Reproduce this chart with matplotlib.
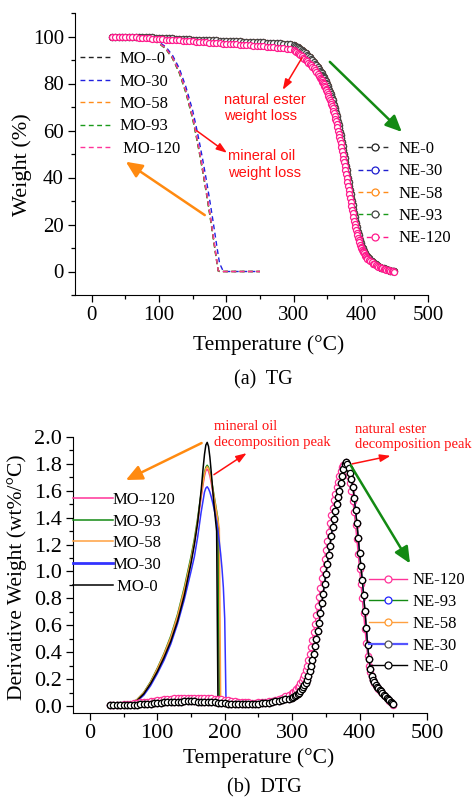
import numpy as np
import matplotlib
matplotlib.use("Agg")
import matplotlib.pyplot as plt
from matplotlib.lines import Line2D
from matplotlib.ticker import MultipleLocator, FormatStrFormatter

plt.rcParams['font.family'] = ['Liberation Serif', 'DejaVu Serif']

# ---------------- data ----------------
# natural ester TG: 5 degC steps up to 295, 2 degC to 338, 1 degC through the fall, 2 degC to 450
tg_temp = np.concatenate([np.arange(30, 300, 5), np.arange(300, 340, 2),
                          np.arange(340, 411, 1), np.arange(412, 451, 2)])

tg_ne0 = [100.0, 100.0, 100.0, 99.9, 99.9, 99.9, 99.8, 99.8, 99.8, 99.7,
          99.7, 99.6, 99.6, 99.5, 99.5, 99.4, 99.3, 99.3, 99.2, 99.1,
          99.0, 99.0, 98.9, 98.8, 98.7, 98.7, 98.6, 98.5, 98.5, 98.4,
          98.3, 98.3, 98.2, 98.1, 98.1, 98.0, 98.0, 97.9, 97.9, 97.8,
          97.8, 97.7, 97.7, 97.6, 97.6, 97.5, 97.4, 97.4, 97.3, 97.2,
          97.1, 97.0, 96.8, 96.6,
          # 300-338
          96.3, 96.0, 95.7, 95.4, 95.0, 94.6, 94.2, 93.8, 93.3, 92.8,
          92.3, 91.7, 91.1, 90.5, 89.9, 89.2, 88.5, 87.7, 86.9, 86.0,
          # 340-410
          85.2, 84.8, 84.3, 83.8, 83.3, 82.8, 82.2, 81.6, 81.0, 80.3,
          79.6, 78.9, 78.1, 77.3, 76.5, 75.6, 74.7, 73.8, 72.8, 71.8,
          70.8, 69.7, 68.6, 67.4, 66.2, 64.9, 63.6, 62.3, 60.9, 59.5,
          58.1, 56.6, 55.0, 53.4, 51.8, 50.1, 48.4, 46.7, 45.0, 43.3,
          41.6, 39.9, 38.2, 36.5, 34.8, 33.1, 31.4, 29.8, 28.1, 26.5,
          24.9, 23.4, 21.9, 20.5, 19.1, 17.8, 16.6, 15.4, 14.3, 13.2,
          12.2, 11.4, 10.6, 9.9, 9.2, 8.6, 8.0, 7.5, 7.0, 6.6,
          6.2,
          # 412-450
          5.6, 5.0, 4.4, 3.9, 3.4, 3.0, 2.7, 2.3, 2.0, 1.7,
          1.5, 1.3, 1.1, 0.9, 0.7, 0.5, 0.4, 0.3, 0.2, 0.1]
tg_ne120 = [100.0, 100.0, 99.9, 99.9, 99.8, 99.8, 99.7, 99.6, 99.5, 99.4,
            99.3, 99.2, 99.1, 99.0, 98.9, 98.8, 98.7, 98.6, 98.5, 98.4,
            98.3, 98.2, 98.1, 98.0, 97.9, 97.8, 97.7, 97.6, 97.5, 97.4,
            97.3, 97.2, 97.1, 97.0, 96.9, 96.8, 96.7, 96.6, 96.5, 96.4,
            96.3, 96.2, 96.1, 96.0, 95.9, 95.8, 95.7, 95.6, 95.5, 95.3,
            95.2, 95.0, 94.8, 94.6,
            # 300-338
            94.3, 93.9, 93.5, 93.0, 92.5, 92.0, 91.5, 91.0, 90.5, 90.0,
            89.5, 88.9, 88.3, 87.7, 87.1, 86.5, 85.7, 84.9, 84.1, 83.3,
            # 340-410
            82.5, 82.0, 81.4, 80.8, 80.2, 79.6, 79.0, 78.4, 77.8, 77.2,
            76.5, 75.7, 74.8, 74.0, 73.1, 72.2, 71.3, 70.4, 69.4, 68.5,
            67.5, 66.3, 65.1, 63.9, 62.6, 61.3, 60.0, 58.7, 57.3, 55.9,
            54.5, 52.9, 51.3, 49.7, 48.0, 46.4, 44.7, 43.1, 41.4, 39.7,
            38.0, 36.3, 34.6, 33.0, 31.3, 29.6, 28.0, 26.3, 24.7, 23.1,
            21.5, 20.2, 18.9, 17.7, 16.5, 15.4, 14.4, 13.4, 12.4, 11.4,
            10.5, 9.9, 9.3, 8.7, 8.2, 7.7, 7.2, 6.7, 6.3, 5.9,
            5.5,
            # 412-450
            5.0, 4.4, 3.9, 3.4, 3.0, 2.7, 2.4, 2.0, 1.8, 1.5,
            1.3, 1.1, 0.9, 0.7, 0.6, 0.5, 0.3, 0.2, 0.1, 0.0]
# NE-30 / NE-58 / NE-93 lie on top of NE-0 in the picture
tg_ne30 = tg_ne0
tg_ne58 = tg_ne0
tg_ne93 = tg_ne0

# natural ester DTG: 5 degC steps up to 295, then 2 degC steps to 450
dtg_temp = np.concatenate([np.arange(30, 300, 5), np.arange(300, 451, 2)])

dtg_ne0 = [0.005, 0.005, 0.005, 0.006, 0.006, 0.007, 0.008, 0.009, 0.010, 0.012,
           0.014, 0.016, 0.018, 0.020, 0.022, 0.024, 0.026, 0.028, 0.030, 0.031,
           0.032, 0.033, 0.034, 0.034, 0.034, 0.034, 0.033, 0.032, 0.031, 0.030,
           0.028, 0.026, 0.024, 0.022, 0.020, 0.018, 0.017, 0.016, 0.015, 0.015,
           0.015, 0.015, 0.016, 0.017, 0.018, 0.020, 0.022, 0.025, 0.029, 0.034,
           0.040, 0.045, 0.050, 0.055,
           0.060, 0.066, 0.072, 0.079, 0.088, 0.100, 0.112, 0.125, 0.138, 0.153,
           0.170, 0.196, 0.226, 0.260, 0.298, 0.340, 0.390, 0.443, 0.500, 0.560,
           0.620, 0.690, 0.762, 0.835, 0.908, 0.980, 1.052, 1.123, 1.193, 1.262,
           1.330, 1.392, 1.450, 1.503, 1.553, 1.600, 1.655, 1.710, 1.760, 1.800,
           1.812, 1.800, 1.770, 1.730, 1.685, 1.630, 1.550, 1.460, 1.360, 1.250,
           1.140, 1.040, 0.935, 0.825, 0.705, 0.580, 0.450, 0.350, 0.275, 0.225,
           0.195, 0.175, 0.157, 0.143, 0.131, 0.120, 0.108, 0.096, 0.085, 0.074,
           0.063, 0.052, 0.042, 0.032, 0.021, 0.012]
dtg_ne120 = [0.008, 0.008, 0.009, 0.010, 0.012, 0.014, 0.016, 0.019, 0.022, 0.026,
             0.029, 0.033, 0.036, 0.040, 0.043, 0.046, 0.049, 0.052, 0.054, 0.056,
             0.058, 0.060, 0.061, 0.062, 0.062, 0.062, 0.062, 0.061, 0.060, 0.059,
             0.057, 0.055, 0.052, 0.049, 0.046, 0.042, 0.038, 0.035, 0.032, 0.029,
             0.027, 0.026, 0.025, 0.025, 0.026, 0.028, 0.031, 0.035, 0.040, 0.046,
             0.053, 0.061, 0.071, 0.082,
             0.095, 0.104, 0.114, 0.125, 0.138, 0.152, 0.168, 0.186, 0.208, 0.234,
             0.265, 0.300, 0.340, 0.385, 0.435, 0.490, 0.550, 0.612, 0.676, 0.742,
             0.810, 0.880, 0.950, 1.020, 1.090, 1.160, 1.228, 1.295, 1.360, 1.420,
             1.475, 1.528, 1.578, 1.625, 1.668, 1.708, 1.745, 1.775, 1.793, 1.795,
             1.780, 1.750, 1.710, 1.660, 1.600, 1.525, 1.440, 1.345, 1.240, 1.130,
             1.020, 0.910, 0.800, 0.690, 0.575, 0.465, 0.370, 0.300, 0.250, 0.215,
             0.190, 0.170, 0.153, 0.140, 0.128, 0.116, 0.104, 0.093, 0.082, 0.071,
             0.060, 0.050, 0.040, 0.030, 0.020, 0.010]
dtg_ne30 = dtg_ne0
dtg_ne58 = dtg_ne0
dtg_ne93 = dtg_ne0

# mineral oil TG
mo_tg_temp = [30, 40, 50, 60, 70, 80, 90, 100, 110, 120, 130, 140, 150, 155,
              160, 165, 170, 175, 180, 185, 188, 190, 195, 198, 200, 210, 250]
tg_mo0 = [100.0, 100.0, 100.0, 99.9, 99.7, 99.3, 98.5, 97.2, 95.0, 91.0, 85.0, 76.5, 65.5, 58.5,
          51.0, 43.0, 34.5, 25.5, 16.0, 6.0, 0.3, 0.0, 0.0, 0.0, 0.0, 0.0, 0.0]
tg_mo30 = [100.0, 100.0, 100.0, 99.9, 99.7, 99.4, 98.7, 97.6, 95.6, 92.0, 86.5, 78.5, 68.5, 62.0,
           55.0, 47.5, 39.5, 31.0, 22.0, 12.5, 7.0, 3.5, 0.4, 0.1, 0.0, 0.0, 0.0]
tg_mo58 = [100.0, 100.0, 100.0, 99.9, 99.7, 99.3, 98.5, 97.1, 94.9, 90.8, 84.8, 76.2, 65.2, 58.2,
           50.7, 42.7, 34.2, 25.2, 15.7, 5.8, 0.3, 0.0, 0.0, 0.0, 0.0, 0.0, 0.0]
tg_mo93 = [100.0, 100.0, 100.0, 99.9, 99.7, 99.2, 98.4, 97.0, 94.7, 90.6, 84.5, 75.9, 64.9, 57.9,
           50.4, 42.4, 33.9, 24.9, 15.4, 5.6, 0.2, 0.0, 0.0, 0.0, 0.0, 0.0, 0.0]
tg_mo120 = [100.0, 100.0, 100.0, 99.9, 99.7, 99.3, 98.5, 97.2, 95.0, 91.0, 85.1, 76.7, 65.8, 58.8,
            51.3, 43.3, 34.8, 25.8, 16.3, 6.2, 0.4, 0.0, 0.0, 0.0, 0.0, 0.0, 0.0]

# mineral oil DTG
mo_dtg_temp = [30, 40, 50, 60, 70, 80, 90, 100, 110, 120, 130, 140, 150, 155, 160, 165, 168,
               170, 172, 174, 176, 178, 180, 182, 184, 186, 188, 190, 192, 194, 196, 198,
               200, 202, 204, 210, 250]
dtg_mo0 = [0.005, 0.005, 0.006, 0.012, 0.040, 0.090, 0.165, 0.255, 0.360, 0.480, 0.630, 0.820,
           1.060, 1.200, 1.370, 1.600, 1.770, 1.870, 1.940, 1.960, 1.930, 1.850, 1.740, 1.620,
           1.500, 1.400, 1.300, 0.005, 0.0, 0.0, 0.0, 0.0, 0.0, 0.0, 0.0, 0.0, 0.0]
dtg_mo30 = [0.005, 0.005, 0.006, 0.010, 0.035, 0.080, 0.150, 0.240, 0.340, 0.460, 0.610, 0.790,
            1.000, 1.110, 1.260, 1.440, 1.530, 1.590, 1.620, 1.630, 1.615, 1.590, 1.555, 1.515,
            1.470, 1.420, 1.365, 1.300, 1.220, 1.130, 1.020, 0.880, 0.650, 0.005, 0.0, 0.0, 0.0]
dtg_mo58 = [0.005, 0.006, 0.008, 0.015, 0.046, 0.098, 0.175, 0.275, 0.385, 0.510, 0.670, 0.865,
            1.090, 1.220, 1.380, 1.565, 1.665, 1.725, 1.765, 1.780, 1.765, 1.730, 1.680, 1.620,
            1.560, 1.500, 1.440, 1.380, 1.320, 0.005, 0.0, 0.0, 0.0, 0.0, 0.0, 0.0, 0.0]
dtg_mo93 = [0.005, 0.006, 0.008, 0.016, 0.048, 0.100, 0.180, 0.280, 0.390, 0.520, 0.680, 0.880,
            1.110, 1.240, 1.400, 1.580, 1.680, 1.735, 1.775, 1.790, 1.775, 1.740, 1.690, 1.630,
            1.570, 1.510, 1.450, 1.390, 0.005, 0.0, 0.0, 0.0, 0.0, 0.0, 0.0, 0.0, 0.0]
dtg_mo120 = [0.005, 0.006, 0.008, 0.015, 0.045, 0.097, 0.173, 0.272, 0.380, 0.505, 0.660, 0.850,
             1.080, 1.210, 1.370, 1.550, 1.650, 1.710, 1.750, 1.760, 1.745, 1.710, 1.660, 1.600,
             1.540, 1.480, 1.420, 1.360, 0.005, 0.0, 0.0, 0.0, 0.0, 0.0, 0.0, 0.0, 0.0]

# ---------------- figure ----------------
W, H = 474, 799
fig = plt.figure(figsize=(W / 100, H / 100), dpi=100)

def box(left, top, right, bottom):
    # pixel box (origin top-left) -> figure fraction rect
    return [left / W, 1 - bottom / H, (right - left) / W, (bottom - top) / H]

def style_axis(ax, size):
    for s in ['top', 'right']:
        ax.spines[s].set_visible(False)
    ax.tick_params(which='both', direction='out', top=False, right=False, labelsize=size)
    ax.tick_params(which='major', length=5, width=0.9, pad=3)
    ax.tick_params(which='minor', length=3, width=0.9)
    ax.set_xlim(-25, 500)
    ax.xaxis.set_major_locator(MultipleLocator(100))
    ax.xaxis.set_minor_locator(MultipleLocator(50))

def arrow(ax, tail, head, color, lw, big):
    if big:
        st = '-|>,head_length=0.7,head_width=0.32'
    else:
        st = '-|>,head_length=0.45,head_width=0.16'
    ax.annotate('', xy=head, xytext=tail, annotation_clip=False,
                arrowprops=dict(arrowstyle=st, color=color, lw=lw, mutation_scale=14,
                                shrinkA=0, shrinkB=0))

RED = '#ff1010'
ORANGE = '#ff8a10'
GREEN = '#138a13'
sans = ['Liberation Sans', 'DejaVu Sans']

# ======== (a) TG ========
ax1 = fig.add_axes(box(75, 13, 428, 295))
style_axis(ax1, 15)
ax1.set_ylim(-10, 110)
ax1.yaxis.set_major_locator(MultipleLocator(20))
ax1.yaxis.set_minor_locator(MultipleLocator(10))

mo_labels_a = ['MO--0', 'MO-30', 'MO-58', 'MO-93', ' MO-120']
mo_colors_a = ['#222222', '#2020e0', '#ff8c1a', '#1a9a1a', '#ff3399']
mo_lines = []
for vals, c in zip([tg_mo0, tg_mo30, tg_mo58, tg_mo93, tg_mo120], mo_colors_a):
    ln, = ax1.plot(mo_tg_temp, vals, color=c, lw=1.0, dashes=(3.5, 2.5))
    mo_lines.append(ln)

ne_labels_a = ['NE-0', 'NE-30', 'NE-58', 'NE-93', 'NE-120']
ne_line_a = ['#333333', '#1f1fd0', '#ff8c1a', '#1a9a1a', '#ff1a8c']
ne_mark_a = ['#222222', '#1f1fd0', '#ff8c1a', '#444444', '#ff1a8c']
for vals, c, mc in zip([tg_ne0, tg_ne30, tg_ne58, tg_ne93, tg_ne120], ne_line_a, ne_mark_a):
    ax1.plot(tg_temp, vals, color=c, lw=1.0, dashes=(3.5, 2.5), marker='o', ms=4.3,
             mfc='white', mec=mc, mew=0.9)

leg1 = ax1.legend(mo_lines, mo_labels_a, loc='upper left', bbox_to_anchor=(80 / W, 1 - 51 / H),
                  bbox_transform=fig.transFigure, frameon=False, fontsize=12, borderpad=0,
                  borderaxespad=0, handlelength=2.0, handletextpad=0.35, labelspacing=0.39)
ax1.add_artist(leg1)
ne_handles = [Line2D([], [], color=c, lw=1.0, dashes=(3.5, 2.5), marker='o', ms=5,
                     mfc='white', mec=mc, mew=0.9) for c, mc in zip(ne_line_a, ne_mark_a)]
ax1.legend(ne_handles, ne_labels_a, loc='upper left', bbox_to_anchor=(358 / W, 1 - 141 / H),
           bbox_transform=fig.transFigure, frameon=False, fontsize=12, borderpad=0,
           borderaxespad=0, handlelength=2.0, handletextpad=0.45, labelspacing=0.38)

ax1.text(196, 69.6, 'natural ester\nweight loss', color=RED, fontsize=10.5, family=sans,
         ha='left', va='center', linespacing=1.25)
ax1.text(203, 45.6, 'mineral oil\nweight loss', color=RED, fontsize=10.5, family=sans,
         ha='left', va='center', linespacing=1.25)
arrow(ax1, (312.5, 90.9), (284, 77.3), RED, 1.1, False)
arrow(ax1, (354, 89.2), (461, 59.4), GREEN, 1.8, True)
arrow(ax1, (156, 59.9), (201, 50.5), RED, 1.1, False)
arrow(ax1, (168, 24), (50.6, 46.7), ORANGE, 1.8, True)

ax1.set_xlabel('Temperature (°C)', fontsize=15.5, va='center')
ax1.xaxis.set_label_coords(0.548, -0.177)
ax1.set_ylabel('Weight (%)', fontsize=16, va='center')
ax1.yaxis.set_label_coords(-0.15, 0.461)
fig.text(263 / W, 1 - 380 / H, '(a)  TG', ha='center', va='center', fontsize=14.5)

# ======== (b) DTG ========
ax2 = fig.add_axes(box(73, 437, 427, 712.7))
style_axis(ax2, 16)
ax2.set_ylim(-0.05, 2.0)
ax2.yaxis.set_major_locator(MultipleLocator(0.2))
ax2.yaxis.set_minor_locator(MultipleLocator(0.1))
ax2.yaxis.set_major_formatter(FormatStrFormatter('%.1f'))

mo_labels_b = ['MO--120', 'MO-93', 'MO-58', 'MO-30', ' MO-0']
mo_colors_b = ['#ff3399', '#138a13', '#ffa040', '#3333ff', '#000000']
for vals, c in zip([dtg_mo120, dtg_mo93, dtg_mo58, dtg_mo30, dtg_mo0], mo_colors_b):
    ax2.plot(mo_dtg_temp, vals, color=c, lw=1.1)
# MO-30 has a heavier stroke in the key
mo_b_handles = [Line2D([], [], color=c, lw=(2.0 if lab == 'MO-30' else 1.1))
                for c, lab in zip(mo_colors_b, mo_labels_b)]

ne_labels_b = ['NE-120', 'NE-93', 'NE-58', 'NE-30', 'NE-0']
ne_line_b = ['#ff3399', '#138a13', '#ffa040', '#5555ff', '#000000']
ne_mark_b = ['#ff3399', '#2222ff', '#ff9a30', '#555555', '#000000']
for vals, c, mc in zip([dtg_ne120, dtg_ne93, dtg_ne58, dtg_ne30, dtg_ne0], ne_line_b, ne_mark_b):
    ax2.plot(dtg_temp, vals, color=c, lw=1.0, marker='o', ms=4.5, mfc='white', mec=mc, mew=0.9)

leg3 = ax2.legend(mo_b_handles, mo_labels_b, loc='upper left', bbox_to_anchor=(73 / W, 1 - 492 / H),
                  bbox_transform=fig.transFigure, frameon=False, fontsize=12, borderpad=0,
                  borderaxespad=0, handlelength=2.4, handletextpad=0.0, labelspacing=0.34)
ax2.add_artist(leg3)
ne_b_handles = [Line2D([], [], color=c, lw=(1.6 if lab == 'NE-30' else 1.0), marker='o', ms=5,
                       mfc='white', mec=mc, mew=0.9)
                for c, mc, lab in zip(ne_line_b, ne_mark_b, ne_labels_b)]
ax2.legend(ne_b_handles, ne_labels_b, loc='upper left', bbox_to_anchor=(369 / W, 1 - 572.5 / H),
           bbox_transform=fig.transFigure, frameon=False, fontsize=12, borderpad=0,
           borderaxespad=0, handlelength=2.3, handletextpad=0.3, labelspacing=0.34)

ax2.text(184.4, 2.02, 'mineral oil\ndecomposition peak', color=RED, fontsize=10.5,
         ha='left', va='center', linespacing=1.25, clip_on=False)
ax2.text(393.2, 2.0, 'natural ester\ndecomposition peak', color=RED, fontsize=10.5,
         ha='left', va='center', linespacing=1.25, clip_on=False)
arrow(ax2, (165.7, 1.955), (53.4, 1.68), ORANGE, 1.8, True)
arrow(ax2, (184, 1.72), (232.5, 1.88), RED, 1.1, False)
arrow(ax2, (389, 1.80), (446, 1.86), RED, 1.1, False)
arrow(ax2, (386.8, 1.79), (474.8, 1.06), GREEN, 1.8, True)

ax2.set_xlabel('Temperature (°C)', fontsize=15.5, va='center')
ax2.xaxis.set_label_coords(0.523, -0.164)
ax2.set_ylabel('Derivative Weight (wt%/°C)', fontsize=15.5, va='center')
ax2.yaxis.set_label_coords(-0.158, 0.49)
fig.text(264 / W, 1 - 788 / H, '(b)  DTG', ha='center', va='center', fontsize=14.5)

fig.savefig('out.png', dpi=100)
